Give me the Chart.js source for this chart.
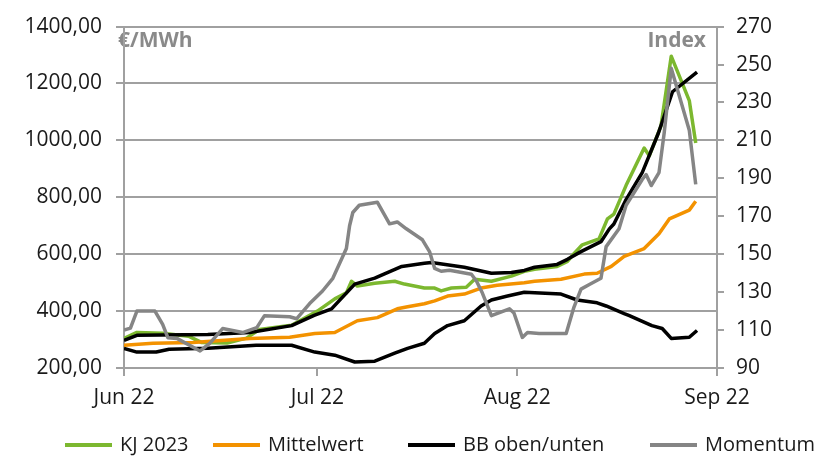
<!DOCTYPE html>
<html lang="de">
<head>
  <meta charset="UTF-8" />
  <title>KJ 2023 Bollinger</title>
  <style>
    body { margin: 0; background: #fff; }
    #wrap { width: 818px; height: 458px; }
  </style>
</head>
<body>
  <div id="wrap"><canvas id="chart" width="818" height="458"></canvas></div>

  <script src="https://cdn.jsdelivr.net/npm/chart.js"></script>
  <script>
    // x = days since 1 Jun 2022
    const monthDays = [0, 30, 61, 92];
    const monthLabels = ["Jun 22", "Jul 22", "Aug 22", "Sep 22"];

    const kjDays = [0, 2, 6, 10, 12, 16, 19, 21, 26, 30, 32.7, 34.5, 35.3, 36.2, 38.9, 42, 43.5, 46.6, 48.2, 49.2, 50.8, 53.1, 54.4, 57, 60.1, 62.1, 63.7, 67.2, 68.8, 69.8, 71.1, 73.7, 75, 76, 77.9, 80.7, 81.5, 83.3, 84.9, 87.7, 88.7];
    const kjValues = [304, 325, 322, 312, 290, 288, 305, 335, 350, 400, 443, 464, 505, 488, 498, 505, 495, 481, 481, 471, 481, 484, 512, 505, 523, 540, 547, 557, 575, 602, 633, 654, 724, 741, 842, 973, 946, 1050, 1296, 1140, 991];

    const meanDays = [0, 4.5, 10.7, 19.5, 25.7, 29.6, 32.7, 36.2, 39.3, 42.4, 44, 46.6, 48.2, 50.2, 52.8, 55.4, 57.9, 62.1, 63.7, 67.8, 71.4, 73.4, 75.6, 77.6, 80.7, 83, 84.6, 87.7, 88.7];
    const meanValues = [280, 287, 290, 304, 308, 321, 325, 366, 377, 408, 415, 426, 436, 453, 460, 481, 491, 500, 505, 512, 530, 533, 557, 592, 620, 672, 724, 755, 786];

    const bbUpDays = [0, 2, 13, 19.5, 26, 29.5, 32.2, 35.8, 38.9, 43.1, 46.6, 47.7, 52.8, 57, 60.1, 62.1, 63.7, 67.2, 68.8, 70.9, 74, 75.3, 76, 77.8, 80.4, 82.9, 85.1, 88.9];
    const bbUpValues = [297, 315, 318, 325, 349, 385, 408, 495, 516, 557, 568, 571, 554, 533, 536, 543, 554, 564, 582, 609, 644, 689, 706, 788, 887, 1025, 1171, 1240];

    const bbLowDays = [0, 2, 5, 7, 13, 20.5, 26, 29.6, 32.7, 35.8, 38.9, 42, 44, 46.6, 48.2, 50.2, 52.8, 55.4, 57, 59.5, 62.1, 67.8, 70.3, 73.4, 74.8, 77.6, 78.4, 81.9, 83.5, 84.9, 87.7, 88.9];
    const bbLowValues = [269, 256, 256, 266, 269, 280, 280, 256, 245, 221, 224, 252, 269, 287, 321, 349, 366, 418, 439, 453, 466, 460, 439, 429, 418, 391, 384, 349, 339, 304, 308, 332];

    const momDays = [0, 1, 2, 4.8, 6, 6.8, 8.2, 11.8, 13.3, 15.3, 18.4, 20.6, 21.8, 25.7, 26.8, 28.8, 30.8, 32.4, 34.5, 35, 35.5, 36.5, 39.3, 41.2, 42.4, 43.8, 46.3, 47.4, 48.2, 49.2, 50.5, 53.9, 54.7, 55.6, 57, 59.8, 60.5, 61.8, 62.6, 64.4, 68.6, 69.8, 70.9, 72.2, 74, 74.8, 76.8, 77.9, 80.4, 81, 81.8, 83, 83.8, 84.9, 87.7, 88.7];
    const momValues = [110, 111, 120, 120, 113, 106, 105.6, 99, 103, 110.8, 108.7, 111.3, 117.6, 117, 116, 124, 130.6, 137.3, 153, 165, 172, 175.8, 177.4, 166, 167, 163.4, 157.6, 151.4, 142.5, 141, 141.5, 139.4, 135.7, 129.5, 117.6, 121.2, 119, 106.1, 108.7, 108.2, 108.2, 122, 131.6, 134, 137.3, 154, 163.4, 175.8, 189.4, 192, 186.2, 193, 213.8, 248, 215.4, 186.8];

    const GREEN = "#7cb82f";
    const ORANGE = "#f39200";
    const BLACK = "#000000";
    const GRAY = "#858585";
    const AXIS = "#a0a0a0";
    const FONT = "'Open Sans', 'DejaVu Sans', sans-serif";

    const toPoints = (days, values) => days.map((d, i) => ({ x: d, y: values[i] }));

    const line = (label, days, values, color, axis, order) => ({
      label,
      data: toPoints(days, values),
      borderColor: color,
      backgroundColor: color,
      borderWidth: 3.5,
      pointRadius: 0,
      tension: 0,
      borderJoinStyle: "round",
      yAxisID: axis,
      order
    });

    const legendItems = [
      { text: "KJ 2023", color: GREEN, x: 65 },
      { text: "Mittelwert", color: ORANGE, x: 213 },
      { text: "BB oben/unten", color: BLACK, x: 408 },
      { text: "Momentum", color: GRAY, x: 650 }
    ];

    // unit labels inside the plot + bottom legend
    const extras = {
      id: "extras",
      beforeDraw(chart) {
        const { ctx, chartArea } = chart;
        ctx.save();
        ctx.fillStyle = "#8a8a8a";
        ctx.font = "bold 21px " + FONT;
        ctx.textBaseline = "alphabetic";
        ctx.textAlign = "left";
        ctx.fillText("€/MWh", chartArea.left - 6, 47);
        ctx.textAlign = "right";
        ctx.fillText("Index", chartArea.right - 11, 47);
        ctx.restore();
      },
      afterDraw(chart) {
        const ctx = chart.ctx;
        ctx.save();
        ctx.font = "20px " + FONT;
        ctx.textBaseline = "middle";
        ctx.textAlign = "left";
        legendItems.forEach(item => {
          ctx.strokeStyle = item.color;
          ctx.lineWidth = 4;
          ctx.beginPath();
          ctx.moveTo(item.x, 445);
          ctx.lineTo(item.x + 47, 445);
          ctx.stroke();
          ctx.fillStyle = "#1a1a1a";
          ctx.fillText(item.text, item.x + 55, 445);
        });
        ctx.restore();
      }
    };

    new Chart(document.getElementById("chart"), {
      type: "line",
      data: {
        datasets: [
          line("Momentum", momDays, momValues, GRAY, "y1", 0),
          line("BB oben", bbUpDays, bbUpValues, BLACK, "y", 1),
          line("BB unten", bbLowDays, bbLowValues, BLACK, "y", 1),
          line("Mittelwert", meanDays, meanValues, ORANGE, "y", 2),
          line("KJ 2023", kjDays, kjValues, GREEN, "y", 3)
        ]
      },
      options: {
        responsive: false,
        animation: false,
        devicePixelRatio: 1,
        layout: { padding: { top: 22, left: 0, right: 0, bottom: 0 } },
        plugins: {
          legend: { display: false },
          tooltip: { enabled: false }
        },
        scales: {
          x: {
            type: "linear",
            min: 0,
            max: 92,
            afterBuildTicks: (scale) => {
              scale.ticks = monthDays.map(v => ({ value: v }));
            },
            afterFit: (scale) => { scale.height = 90; },
            ticks: {
              autoSkip: false,
              maxRotation: 0,
              padding: 9,
              color: "#1a1a1a",
              font: { family: FONT, size: 21 },
              callback: (v) => monthLabels[monthDays.indexOf(v)] || ""
            },
            grid: {
              drawOnChartArea: false,
              drawTicks: true,
              tickLength: 8,
              color: AXIS,
              lineWidth: 2
            },
            border: { color: AXIS, width: 2 }
          },
          y: {
            position: "left",
            min: 200,
            max: 1400,
            afterFit: (scale) => { scale.width = 124; },
            ticks: {
              stepSize: 200,
              padding: 14,
              color: "#1a1a1a",
              font: { family: FONT, size: 21 },
              callback: (v) => v.toFixed(2).replace(".", ",")
            },
            grid: {
              color: AXIS,
              lineWidth: 2,
              tickLength: 8
            },
            border: { color: AXIS, width: 2 }
          },
          y1: {
            position: "right",
            min: 90,
            max: 270,
            afterFit: (scale) => { scale.width = 101; },
            ticks: {
              stepSize: 20,
              padding: 12,
              color: "#1a1a1a",
              font: { family: FONT, size: 21 }
            },
            grid: {
              drawOnChartArea: false,
              tickLength: 7,
              color: AXIS,
              lineWidth: 2
            },
            border: { color: AXIS, width: 2 }
          }
        }
      },
      plugins: [extras]
    });
  </script>
</body>
</html>
